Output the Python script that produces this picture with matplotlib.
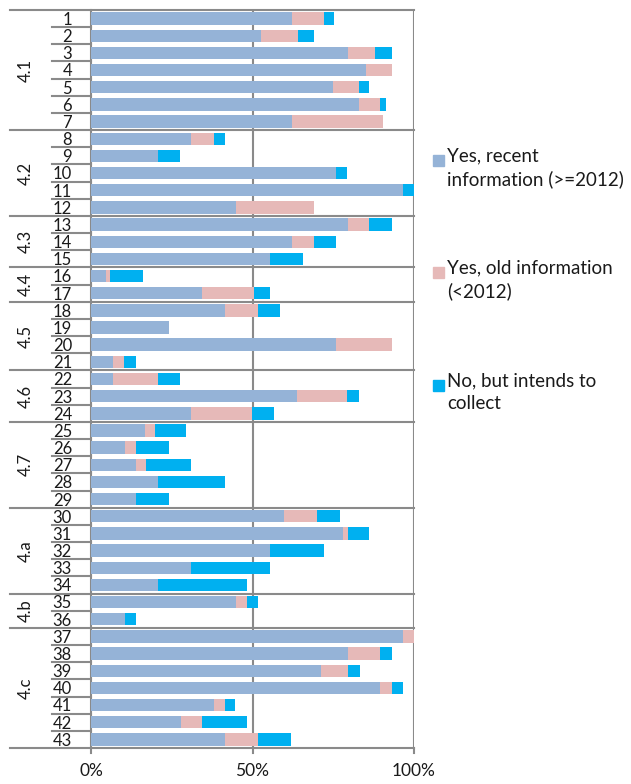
import numpy as np
import matplotlib
matplotlib.use("Agg")
import matplotlib.pyplot as plt
from matplotlib.patches import Rectangle

plt.rcParams['font.family'] = ['Lato', 'DejaVu Sans']

# data (percent of respondents)
rows = [str(i) for i in range(1, 44)]
group_names = ['4.1', '4.2', '4.3', '4.4', '4.5', '4.6', '4.7', '4.a', '4.b', '4.c']
group_sizes = [7, 5, 3, 2, 4, 3, 5, 5, 2, 7]

recent = [62.1, 52.6, 79.5, 85.1, 75.0, 83.0, 62.1, 30.9, 20.6, 75.7,
          96.7, 44.8, 79.5, 62.1, 55.3, 4.5, 34.5, 41.6, 24.1, 75.9,
          6.9, 6.9, 63.8, 30.9, 16.6, 10.4, 13.9, 20.6, 13.9, 59.8,
          78.0, 55.3, 30.9, 20.6, 44.8, 10.4, 96.7, 79.5, 71.3, 89.6,
          38.0, 27.8, 41.6]
old = [10.0, 11.6, 8.3, 8.1, 8.0, 6.6, 28.4, 7.1, 0, 0,
       0, 24.2, 6.5, 6.9, 0, 1.4, 16.0, 10.2, 0, 17.3,
       3.4, 13.7, 15.6, 18.9, 3.1, 3.5, 3.2, 0, 0, 10.2,
       1.5, 0, 0, 0, 3.4, 0, 3.3, 10.1, 8.2, 3.5,
       3.6, 6.7, 10.2]
intends = [3.2, 4.8, 5.4, 0, 3.1, 1.7, 0, 3.5, 7.1, 3.7,
           3.3, 0, 7.2, 6.7, 10.2, 10.3, 4.8, 6.6, 0, 0,
           3.6, 7.1, 3.6, 6.9, 9.8, 10.2, 13.8, 21.0, 10.2, 7.1,
           6.6, 16.9, 24.4, 27.6, 3.5, 3.5, 0, 3.6, 3.9, 3.6,
           3.1, 13.7, 10.2]

labels = ['Yes, recent\ninformation (>=2012)',
          'Yes, old information\n(<2012)',
          'No, but intends to\ncollect']
colors = ['#95B3D7', '#E6B9B8', '#00B0F0']

W, H = 631, 784
fig = plt.figure(figsize=(W / 100, H / 100), dpi=100)
x0, x1, y0, y1 = 91, 414, 10, 748
ax = fig.add_axes([x0 / W, 1 - y1 / H, (x1 - x0) / W, (y1 - y0) / H])

y = np.arange(len(rows))
recent = np.array(recent)
old = np.array(old)
intends = np.array(intends)
ax.barh(y, recent, height=0.72, color=colors[0], zorder=3)
ax.barh(y, old, left=recent, height=0.72, color=colors[1], zorder=3)
ax.barh(y, intends, left=recent + old, height=0.72, color=colors[2], zorder=3)

ax.set_xlim(0, 100)
ax.set_ylim(len(rows) - 0.5, -0.5)
gray = '#8a8a8a'
for v in [50, 100]:
    ax.axvline(v, color=gray, lw=1.5, zorder=1)
for s in ['top', 'right']:
    ax.spines[s].set_visible(False)
ax.spines['left'].set_color(gray)
ax.spines['left'].set_linewidth(1.5)
ax.spines['bottom'].set_visible(False)

ax.set_xticks([0, 50, 100])
ax.set_xticklabels(['0%', '50%', '100%'])
ax.tick_params(axis='x', length=0, pad=11, labelsize=12.5, labelcolor='#1a1a1a')
ax.set_yticks([])

# multi-level category axis
tr = ax.get_yaxis_transform()
short_x = -39 / (x1 - x0)
long_x = -81 / (x1 - x0)
bounds = np.cumsum([0] + group_sizes)
for i, r in enumerate(rows):
    ax.text(-19 / (x1 - x0), i + 0.08, r, transform=tr, ha='right', va='center',
            fontsize=12, color='#1a1a1a')
for k in range(1, len(rows)):
    if k in bounds:
        continue
    ax.plot([short_x, 0], [k - 0.5, k - 0.5], transform=tr, color=gray, lw=1.5,
            clip_on=False)
for k in bounds:
    ax.plot([long_x, 1], [k - 0.5, k - 0.5], transform=tr, color=gray, lw=1.5,
            clip_on=False, zorder=4 if k in (0, len(rows)) else 2)
for name, a, b in zip(group_names, bounds[:-1], bounds[1:]):
    ax.text(-65 / (x1 - x0), (a + b) / 2 - 0.5, name, transform=tr, rotation=90,
            ha='center', va='center', fontsize=12, color='#1a1a1a')
# x ticks below the axis
for v in [0, 50, 100]:
    ax.plot([v, v], [len(rows) - 0.5, len(rows) - 0.2], color=gray, lw=1.5,
            clip_on=False)

# legend
leg_top = [152, 264, 377]
for lab, c, t in zip(labels, colors, leg_top):
    fig.patches.append(Rectangle((433 / W, 1 - (t + 14) / H), 11 / W, 11 / H,
                                 transform=fig.transFigure, color=c))
    fig.text(447 / W, 1 - (t - 5) / H, lab, ha='left', va='top', fontsize=13.5,
             linespacing=1.4, color='#1a1a1a')

fig.savefig('out.png', dpi=100)
